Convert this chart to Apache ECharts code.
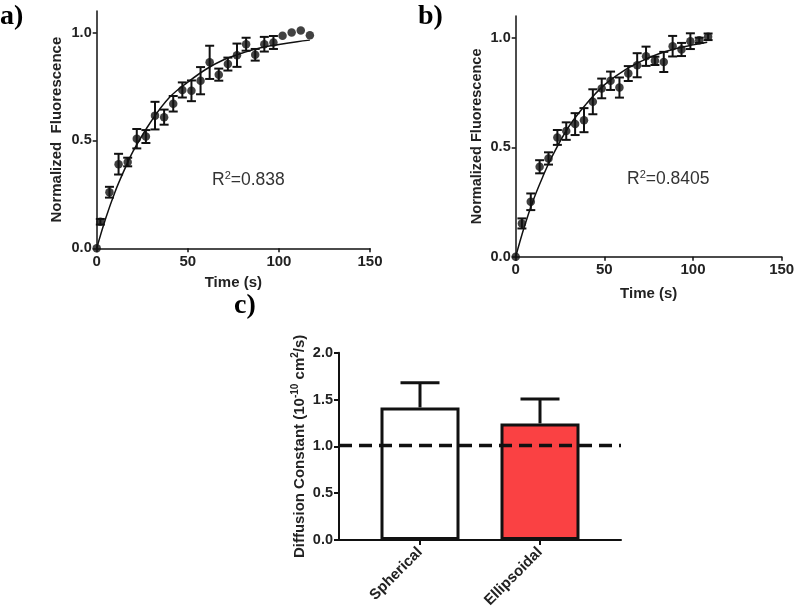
<!DOCTYPE html>
<html>
<head>
<meta charset="utf-8">
<script src="https://cdn.jsdelivr.net/npm/echarts@6/dist/echarts.min.js"></script>
<style>html,body{margin:0;padding:0;background:#fff}#c{width:800px;height:608px}</style>
</head>
<body>
<div id="c"></div>
<script>
// ---------- Panel a ----------
const aTime = [0,2,7,12,17,22,27,32,37,42,47,52,57,62,67,72,77,82,87,92,97,102,107,112,117];
const aMean = [0,0.123,0.26,0.39,0.40,0.508,0.518,0.615,0.608,0.67,0.734,0.73,0.777,0.862,0.805,0.854,0.895,0.946,0.897,0.946,0.954,0.985,1.0,1.01,0.988];
const aErr  = [0,0.013,0.025,0.048,0.02,0.045,0.03,0.064,0.035,0.036,0.035,0.048,0.063,0.077,0.028,0.03,0.054,0.03,0.027,0.034,0.03,0,0,0,0];
const aFitTime = [0,5,10,15,20,30,40,50,60,70,80,90,100,110,117];
const aFitVal  = [0,0.14,0.26,0.36,0.45,0.59,0.70,0.77,0.83,0.875,0.905,0.93,0.945,0.958,0.965];
const aR2 = '0.838';
// ---------- Panel b ----------
const bTime = [0,3.5,8.5,13.5,18.5,23.5,28.5,33.5,38.5,43.5,48.5,53.5,58.5,63.5,68.5,73.5,78.5,83.5,88.5,93.5,98.5,103.5,108.5];
const bMean = [0,0.152,0.251,0.411,0.449,0.545,0.574,0.606,0.624,0.708,0.769,0.804,0.773,0.837,0.875,0.916,0.895,0.89,0.962,0.947,0.985,0.989,1.005];
const bErr  = [0,0.023,0.038,0.03,0.028,0.034,0.04,0.05,0.055,0.057,0.045,0.042,0.046,0.034,0.055,0.044,0.019,0.046,0.047,0.03,0.036,0.012,0.015];
const bFitTime = [0,5,10,15,20,30,40,50,60,70,80,90,100,108];
const bFitVal  = [0,0.14,0.26,0.36,0.45,0.595,0.70,0.785,0.845,0.89,0.925,0.95,0.968,0.98];
const bR2 = '0.8405';
// ---------- Panel c ----------
const cCategories = ['Spherical','Ellipsoidal'];
const cMean = [1.416,1.245];
const cErr  = [0.264,0.26];
const cReference = 1.01;
const xTicks = [0,50,100,150];
const yTicksAB = [0,0.5,1.0];
const yTicksC = [0,0.5,1.0,1.5,2.0];

const FONT = '"Liberation Sans", Arial, sans-serif';
const SERIF = 'bold 28px "Liberation Serif", "Times New Roman", serif';
const RED = '#FA4143';
const zip = (xs, ys, es) => xs.map((x,i) => es ? [x, ys[i], es[i]] : [x, ys[i]]);

function errRender(capHalf, lw) {
  return function (params, api) {
    const x = api.value(0), y = api.value(1), e = api.value(2);
    if (!e) return null;
    const t = api.coord([x, y + e]), b = api.coord([x, y - e]);
    const st = {stroke:'#111', lineWidth: lw};
    return {type:'group', children:[
      {type:'line', shape:{x1:t[0],y1:t[1],x2:b[0],y2:b[1]}, style:st},
      {type:'line', shape:{x1:t[0]-capHalf,y1:t[1],x2:t[0]+capHalf,y2:t[1]}, style:st},
      {type:'line', shape:{x1:b[0]-capHalf,y1:b[1],x2:b[0]+capHalf,y2:b[1]}, style:st}
    ]};
  };
}

const labelStyle = {fontFamily: FONT, fontWeight:'bold', fontSize:15, color:'#222'};
const nameStyle = {fontFamily: FONT, fontWeight:'bold', fontSize:15, color:'#222'};

function timeAxis(gi, gap) {
  return {type:'value', gridIndex:gi, min:0, max:150, interval:50,
    axisLine:{show:true, onZero:false, lineStyle:{color:'#111', width:1.5}},
    axisTick:{show:true, length:4, lineStyle:{color:'#111', width:1.5}},
    axisLabel:{...labelStyle, margin:6, customValues: xTicks},
    splitLine:{show:false},
    name:'Time (s)', nameLocation:'middle', nameGap:gap, nameTextStyle:nameStyle};
}
function fluorAxis(gi, gap, title, fs) {
  return {type:'value', gridIndex:gi, min:0, max:1.1, interval:0.5,
    axisLine:{show:true, onZero:false, lineStyle:{color:'#111', width:1.5}},
    axisTick:{show:true, length:4, customValues: yTicksAB, lineStyle:{color:'#111', width:1.5}},
    axisLabel:{...labelStyle, fontSize:14.5, margin:5, customValues: yTicksAB, formatter: v => v.toFixed(1)},
    splitLine:{show:false},
    name:title, nameLocation:'middle', nameGap:gap, nameRotate:90, nameTextStyle:{...nameStyle, fontSize:fs}};
}

const option = {
  animation:false,
  backgroundColor:'#fff',
  grid:[
    {left:96.7, top:11, width:273.3, height:237.3, outerBoundsMode:'none'},
    {left:515.7, top:16, width:266, height:240.7, outerBoundsMode:'none'},
    {left:339, top:352.7, width:282, height:187.3, outerBoundsMode:'none'},
    {left:360, top:352.7, width:240, height:187.3, outerBoundsMode:'none'}
  ],
  xAxis:[
    timeAxis(0, 27),
    timeAxis(1, 30),
    {type:'value', gridIndex:2, min:0, max:1,
      axisLine:{show:true, onZero:false, lineStyle:{color:'#111', width:2}},
      axisTick:{show:false}, axisLabel:{show:false}, splitLine:{show:false}},
    {type:'category', gridIndex:3, data:cCategories,
      axisLine:{show:false},
      axisTick:{show:true, alignWithLabel:true, length:5, lineStyle:{color:'#111', width:2}},
      axisLabel:{...labelStyle, rotate:45, margin:10, interval:0},
      splitLine:{show:false}}
  ],
  yAxis:[
    fluorAxis(0, 32, 'Normalized  Fluorescence', 15),
    fluorAxis(1, 31, 'Normalized Fluorescence', 14.5),
    {type:'value', gridIndex:2, min:0, max:2, interval:0.5,
      axisLine:{show:true, onZero:false, lineStyle:{color:'#111', width:2}},
      axisTick:{show:true, length:5, lineStyle:{color:'#111', width:2}},
      axisLabel:{...labelStyle, fontSize:14.5, margin:6, customValues: yTicksC, formatter: v => v.toFixed(1)},
      splitLine:{show:false},
      name:'Diffusion Constant (10{sup|-10} cm{sup|2}/s)', nameLocation:'middle', nameGap:30, nameRotate:90,
      nameTextStyle:{...nameStyle, fontSize:15, lineHeight:19,
        rich:{sup:{fontFamily:FONT, fontWeight:'bold', fontSize:10, lineHeight:10, verticalAlign:'top', color:'#222'}}}},
    {type:'value', gridIndex:3, min:0, max:2, show:false}
  ],
  series:[
    // panel a
    {type:'line', xAxisIndex:0, yAxisIndex:0, data:zip(aFitTime, aFitVal), smooth:0.4, symbol:'none',
      lineStyle:{color:'#111', width:1.5}, z:2},
    {type:'custom', xAxisIndex:0, yAxisIndex:0, data:zip(aTime, aMean, aErr), renderItem:errRender(4.5, 2), z:3},
    {type:'scatter', xAxisIndex:0, yAxisIndex:0, data:zip(aTime, aMean), symbol:'circle', symbolSize:8.5,
      itemStyle:{color:'#111'}, z:4},
    // panel b
    {type:'line', xAxisIndex:1, yAxisIndex:1, data:zip(bFitTime, bFitVal), smooth:0.4, symbol:'none',
      lineStyle:{color:'#111', width:1.5}, z:2},
    {type:'custom', xAxisIndex:1, yAxisIndex:1, data:zip(bTime, bMean, bErr), renderItem:errRender(4.5, 2), z:3},
    {type:'scatter', xAxisIndex:1, yAxisIndex:1, data:zip(bTime, bMean), symbol:'circle', symbolSize:8.5,
      itemStyle:{color:'#111'}, z:4},
    // panel c bars
    {type:'bar', xAxisIndex:3, yAxisIndex:3, barWidth:79,
      data: cMean.map((v,i) => ({value:v, itemStyle:{color: i === 0 ? '#ffffff' : RED}})),
      itemStyle:{borderColor:'#111', borderWidth:3}, z:2},
    {type:'custom', xAxisIndex:3, yAxisIndex:3, data: cMean.map((v,i) => [i, v, cErr[i]]), z:3,
      renderItem: function (params, api) {
        const i = api.value(0), v = api.value(1), e = api.value(2);
        const b = api.coord([i, v]), t = api.coord([i, v + e]);
        const st = {stroke:'#111', lineWidth:3};
        return {type:'group', children:[
          {type:'line', shape:{x1:b[0],y1:b[1],x2:t[0],y2:t[1]}, style:st},
          {type:'line', shape:{x1:t[0]-19.5,y1:t[1],x2:t[0]+19.5,y2:t[1]}, style:st}
        ]};
      }},
    // reference dashed line
    {type:'line', xAxisIndex:2, yAxisIndex:2, data:[[0,cReference],[1,cReference]], symbol:'none',
      lineStyle:{color:'#111', width:3.5, type:[13,7]}, z:10}
  ],
  graphic:[
    {type:'text', left:0, top:3, style:{text:'a)', font:SERIF, fill:'#000'}},
    {type:'text', left:418, top:3, style:{text:'b)', font:SERIF, fill:'#000'}},
    {type:'text', left:234, top:292, style:{text:'c)', font:SERIF, fill:'#000'}},
    {type:'text', left:212, top:170, style:{text:'R{sup|2}=' + aR2, fontFamily:FONT, fontSize:17.5, fill:'#333', lineHeight:21,
      rich:{sup:{fontFamily:FONT, fontSize:11, lineHeight:11, verticalAlign:'top', fill:'#333'}}}},
    {type:'text', left:627, top:169, style:{text:'R{sup|2}=' + bR2, fontFamily:FONT, fontSize:17.5, fill:'#333', lineHeight:21,
      rich:{sup:{fontFamily:FONT, fontSize:11, lineHeight:11, verticalAlign:'top', fill:'#333'}}}}
  ]
};
const chart = echarts.init(document.getElementById('c'), null, {renderer:'canvas'});
chart.setOption(option);
</script>
</body>
</html>
